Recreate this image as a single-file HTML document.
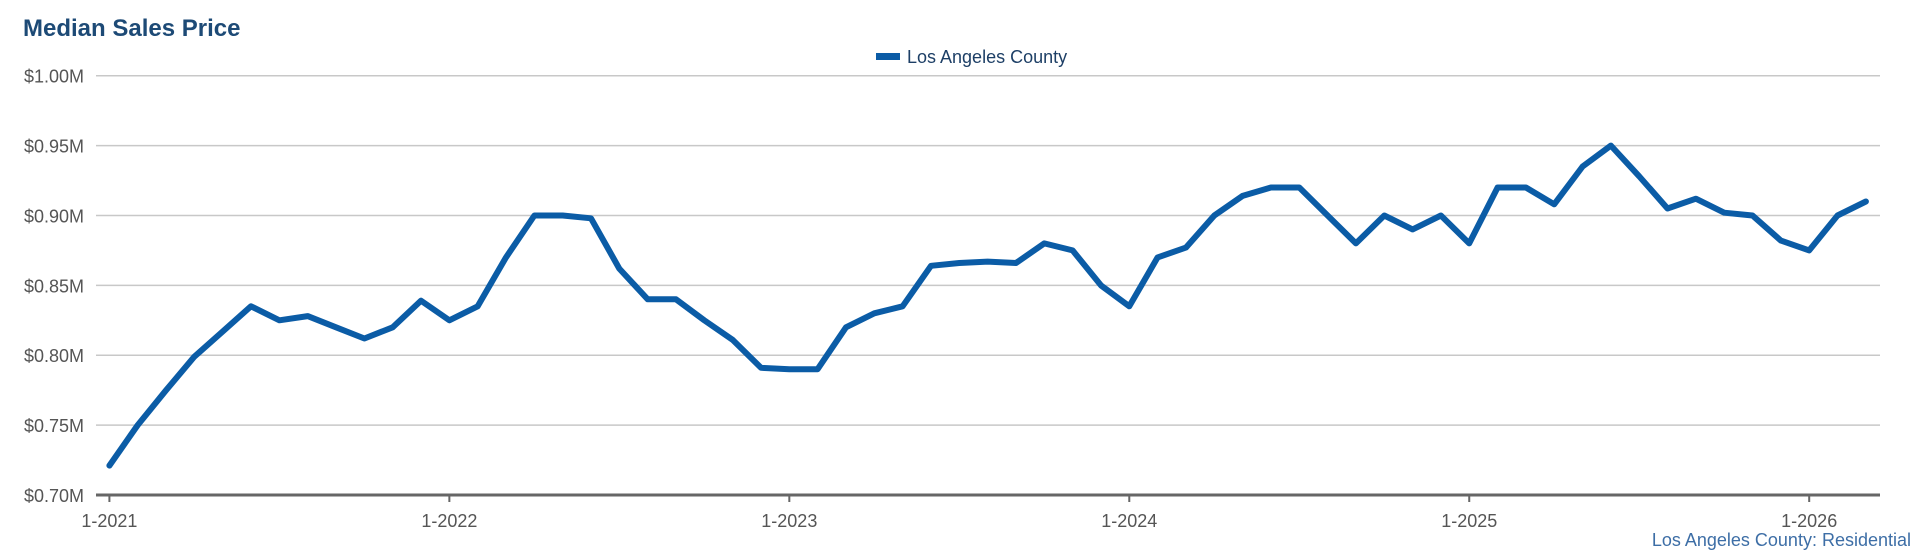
<!DOCTYPE html>
<html><head><meta charset="utf-8">
<style>
html,body{margin:0;padding:0;background:#fff;width:1920px;height:560px;overflow:hidden;font-family:"Liberation Sans",Arial,sans-serif;}
svg{display:block}
</style></head>
<body>
<svg id="chart" width="1920" height="560" xmlns="http://www.w3.org/2000/svg">
  <text x="23" y="36" font-size="24" font-weight="bold" fill="#1d4a76">Median Sales Price</text>
  <g>
    <rect x="876" y="53" width="24" height="7" fill="#0b5ca6"/>
    <text x="907" y="63" font-size="18" fill="#1d3f66">Los Angeles County</text>
  </g>
  <g id="grid"></g>
  <g id="yaxis"></g>
  <g id="xaxis"></g>
  <g id="series"></g>
  <text x="1911" y="546" font-size="18" fill="#3d6ea6" text-anchor="end">Los Angeles County: Residential</text>
</svg>
<script>
const yTicks = [0.70, 0.75, 0.80, 0.85, 0.90, 0.95, 1.00];
const yTickLabels = ["$0.70M","$0.75M","$0.80M","$0.85M","$0.90M","$0.95M","$1.00M"];
const xTickMonths = [0, 12, 24, 36, 48, 60];
const xTickLabels = ["1-2021","1-2022","1-2023","1-2024","1-2025","1-2026"];
const values2021 = [0.721,0.750,0.775,0.799,0.817,0.835,0.825,0.828,0.820,0.812,0.820,0.839];
const values2022 = [0.825,0.835,0.870,0.900,0.900,0.898,0.862,0.840,0.840,0.825,0.811,0.791];
const values2023 = [0.790,0.790,0.820,0.830,0.835,0.864,0.866,0.867,0.866,0.880,0.875,0.850];
const values2024 = [0.835,0.870,0.877,0.900,0.914,0.920,0.920,0.900,0.880,0.900,0.890,0.900];
const values2025 = [0.880,0.920,0.920,0.908,0.935,0.950,0.928,0.905,0.912,0.902,0.900,0.882];
const values2026 = [0.875,0.900,0.910];
const series = [].concat(values2021, values2022, values2023, values2024, values2025, values2026);

const NS = "http://www.w3.org/2000/svg";
const plotL = 96, plotR = 1880, x0 = 109.4, monthW = 28.33;
const yTop = 75.7, yBot = 495, vMin = 0.70, vMax = 1.00;
function xScale(m){ return x0 + m * monthW; }
function yScale(v){ return yBot - (v - vMin) / (vMax - vMin) * (yBot - yTop); }
function mk(tag, attrs, parent){ const e = document.createElementNS(NS, tag); for (const k in attrs) e.setAttribute(k, attrs[k]); parent.appendChild(e); return e; }

const grid = document.getElementById('grid');
const yaxis = document.getElementById('yaxis');
yTicks.forEach((t, i) => {
  const y = yScale(t);
  if (i > 0) {
    const l = mk('line', {x1: plotL, x2: plotR, y1: y, y2: y, stroke: '#c8c8c8', 'stroke-width': 1.5}, grid);
    
    
  }
  const tx = mk('text', {x: 84, y: y + 7, 'font-size': 18, fill: '#555', 'text-anchor': 'end'}, yaxis);
  tx.textContent = yTickLabels[i];
  
  
});

const xaxis = document.getElementById('xaxis');
const axisLine = mk('line', {x1: plotL, x2: plotR, y1: yBot, y2: yBot, stroke: '#666', 'stroke-width': 3}, xaxis);


xTickMonths.forEach((m, i) => {
  const x = xScale(m);
  const tk = mk('line', {x1: x, x2: x, y1: yBot, y2: yBot + 7, stroke: '#666', 'stroke-width': 2}, xaxis);
  
  
  const tx = mk('text', {x: x, y: 527, 'font-size': 18, fill: '#555', 'text-anchor': 'middle'}, xaxis);
  tx.textContent = xTickLabels[i];
  
  
});

const g = document.getElementById('series');
const pts = series.map((v, i) => xScale(i).toFixed(1) + ',' + yScale(v).toFixed(1)).join(' ');
const line = mk('polyline', {points: pts, fill: 'none', stroke: '#0b5ca6', 'stroke-width': 6, 'stroke-linejoin': 'round', 'stroke-linecap': 'round'}, g);


</script>
</body></html>
